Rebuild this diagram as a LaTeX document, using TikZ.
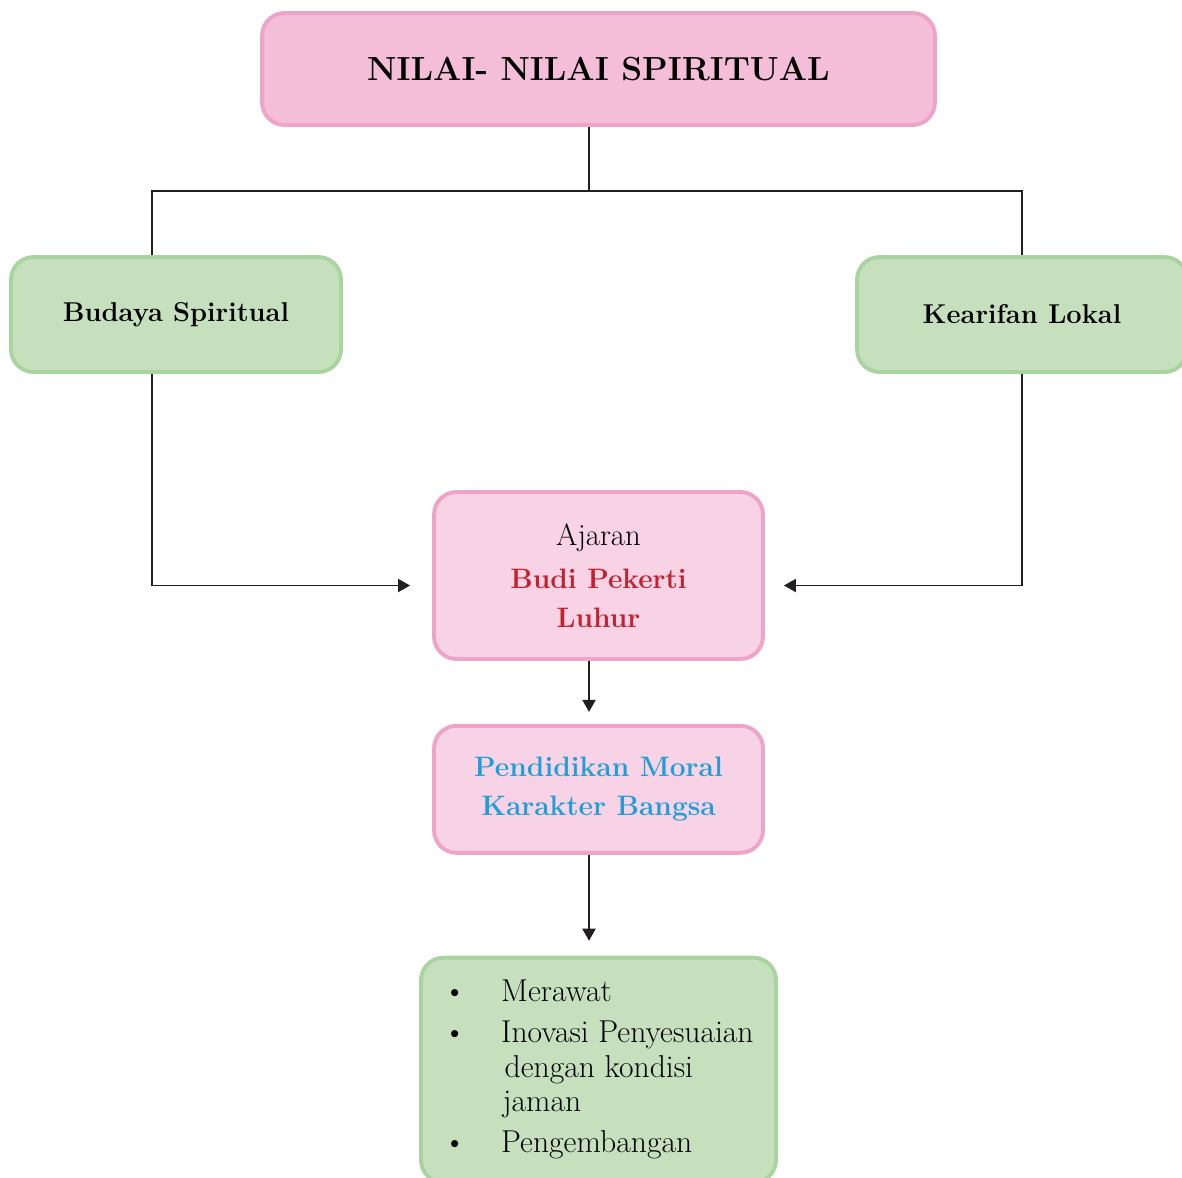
\documentclass[tikz,border=0pt]{standalone}
\usetikzlibrary{arrows.meta, positioning}
\definecolor{titlepink}{HTML}{F5BED8}
\definecolor{softpink}{HTML}{F8D2E5}
\definecolor{pinkline}{HTML}{EEA3C7}
\definecolor{leafgreen}{HTML}{C6E0BE}
\definecolor{greenline}{HTML}{A9D39F}
\definecolor{luhurred}{HTML}{C4212E}
\definecolor{moralblue}{HTML}{1E9FD9}
\definecolor{inkline}{HTML}{231F20}

\begin{document}
\begin{tikzpicture}[
        x=0.02cm, y=-0.02cm,
        pinkbox/.style={rectangle, rounded corners=0.45cm, draw=pinkline, fill=softpink, line width=2.2pt, align=center, font=\fontsize{16}{22}\selectfont},
        greenbox/.style={rectangle, rounded corners=0.45cm, draw=greenline, fill=leafgreen, line width=2.2pt, align=center, font=\fontsize{16}{22}\selectfont\bfseries},
        conn/.style={draw=inkline, line width=1.1pt},
        arrow/.style={conn, -{Triangle[width=0.26cm, length=0.24cm]}}
    ]
    \useasboundingbox (0,0) rectangle (1182,1177);

    \node[pinkbox, fill=titlepink, minimum width=13.46cm, minimum height=2.24cm, font=\fontsize{19}{24}\selectfont\bfseries] (title) at (598.5,69) {NILAI- NILAI SPIRITUAL};
    \node[greenbox, minimum width=6.6cm, minimum height=2.3cm, font=\fontsize{15.5}{22}\selectfont\bfseries] (budaya) at (176,314.5) {Budaya Spiritual};
    \node[greenbox, minimum width=6.6cm, minimum height=2.3cm, font=\fontsize{15.5}{22}\selectfont\bfseries] (kearifan) at (1022,314.5) {Kearifan Lokal};
    \node[pinkbox, minimum width=6.58cm, minimum height=3.34cm] (ajaran) at (598.5,575.5) {{\fontsize{17.5}{22}\selectfont Ajaran}\\[3pt] \textcolor{luhurred}{\bfseries Budi Pekerti}\\ \textcolor{luhurred}{\bfseries Luhur}};
    \node[pinkbox, minimum width=6.58cm, minimum height=2.54cm, font=\fontsize{16}{22}\selectfont\bfseries, text=moralblue] (moral) [below=1.26cm of ajaran] {Pendidikan Moral\\ Karakter Bangsa};
    \node[greenbox, minimum width=7.1cm, minimum height=4.5cm, font=\fontsize{18}{19.6}\selectfont] (langkah) [below=2.02cm of moral] {%
        \begin{tabular}{@{}l@{\hspace{0.7cm}}l@{}}
        \textbullet & Merawat\\[4pt]
        \textbullet & Inovasi Penyesuaian\\
                    & \hspace{2pt}dengan kondisi\\
                    & \hspace{1pt}jaman\\[4pt]
        \textbullet & Pengembangan
        \end{tabular}};

    \coordinate (hub) at (589,191);
    \draw[conn] (title.south -| hub) -- (hub);
    \draw[conn] ([xshift=-0.48cm]budaya.north) |- (hub) -| (kearifan.north);
    \draw[arrow, shorten >=0.44cm] ([xshift=-0.48cm]budaya.south) |- ([yshift=-0.2cm]ajaran.west);
    \draw[arrow, shorten >=0.38cm] (kearifan.south) |- ([yshift=-0.2cm]ajaran.east);
    \draw[arrow, shorten >=0.24cm] (ajaran.south -| hub) -- (moral.north -| hub);
    \draw[arrow, shorten >=0.3cm] (moral.south -| hub) -- (langkah.north -| hub);
    \end{tikzpicture}
\end{document}
